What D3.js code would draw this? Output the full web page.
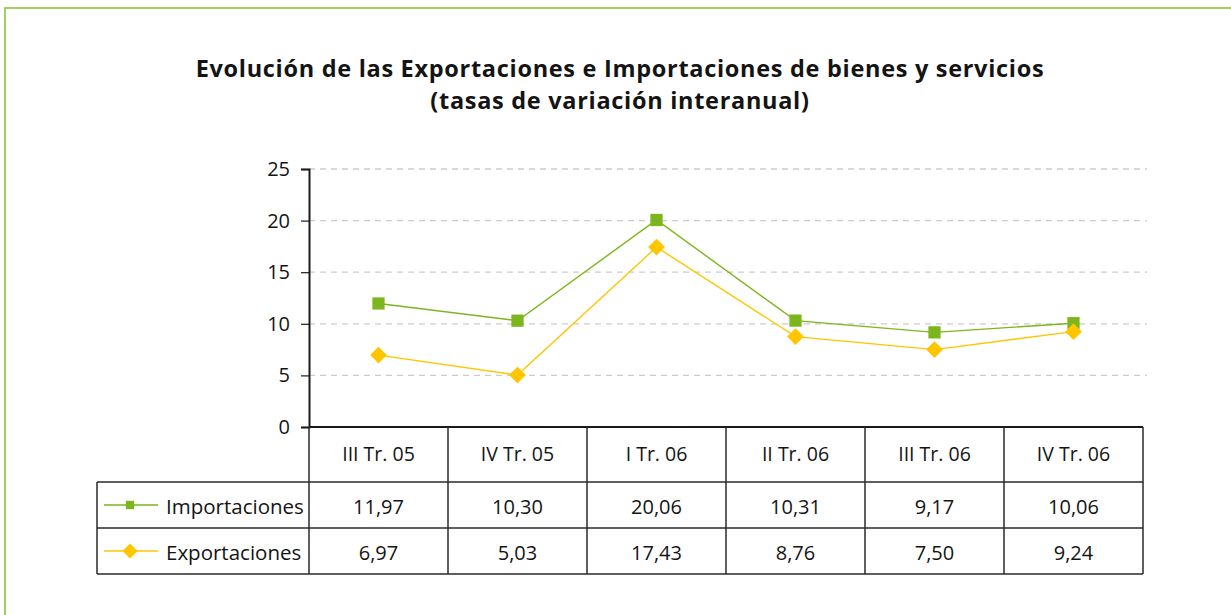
<!DOCTYPE html>
<html>
<head>
<meta charset="utf-8">
<script src="https://cdn.jsdelivr.net/npm/d3@7"></script>
<style>
  body { margin: 0; background: #fff; }
  svg text { font-family: "Open Sans", Lato, sans-serif; fill: #141414; }
</style>
</head>
<body>
<div id="chart"></div>
<script>
// data
const categories = ["III Tr. 05", "IV Tr. 05", "I Tr. 06", "II Tr. 06", "III Tr. 06", "IV Tr. 06"];
const importaciones = [11.97, 10.30, 20.06, 10.31, 9.17, 10.06];
const exportaciones = [6.97, 5.03, 17.43, 8.76, 7.50, 9.24];
const yTicks = [0, 5, 10, 15, 20, 25];

const W = 1231, H = 615;
const green = "#7db61c", yellow = "#ffc600";
const fmt = v => v.toFixed(2).replace(".", ",");

// diamond = square turned 45 degrees
const series = [
  {name: "Importaciones", values: importaciones, color: green, rot: 0, size: 150, legendSize: 70},
  {name: "Exportaciones", values: exportaciones, color: yellow, rot: 45, size: 140, legendSize: 112}
];

const svg = d3.select("#chart").append("svg")
  .attr("width", W)
  .attr("height", H);

// green frame
svg.append("rect")
  .attr("x", 5).attr("y", 8)
  .attr("width", W + 20).attr("height", H + 20)
  .attr("fill", "none")
  .attr("stroke", "#8cc43c")
  .attr("stroke-width", 1.6);

// title
svg.append("text")
  .attr("x", 620).attr("y", 77)
  .attr("text-anchor", "middle")
  .style("font-size", "23.5px").style("font-weight", "bold")
  .style("letter-spacing", "0.7px")
  .text("Evolución de las Exportaciones e Importaciones de bienes y servicios");
svg.append("text")
  .attr("x", 620).attr("y", 109)
  .attr("text-anchor", "middle")
  .style("font-size", "23.5px").style("font-weight", "bold")
  .style("letter-spacing", "0.7px")
  .text("(tasas de variación interanual)");

const x = d3.scaleBand()
  .domain(categories)
  .range([309, 1143])
  .padding(0);

const y = d3.scaleLinear()
  .domain([0, 25])
  .range([427, 169]);

// gridlines
svg.append("g")
  .selectAll("line")
  .data(yTicks.filter(t => t > 0))
  .join("line")
    .attr("x1", 309).attr("x2", 1147)
    .attr("y1", d => y(d)).attr("y2", d => y(d))
    .attr("stroke", "#cccccc")
    .attr("stroke-width", 1.3)
    .attr("stroke-dasharray", "6,5");

// y axis
const yAxis = svg.append("g")
  .attr("transform", "translate(309,0)")
  .call(d3.axisLeft(y).tickValues(yTicks).tickSize(8).tickPadding(11));
yAxis.select(".domain").attr("stroke", "#1a1a1a").attr("stroke-width", 2);
yAxis.selectAll(".tick line").attr("stroke", "#1a1a1a").attr("stroke-width", 1.2);
yAxis.selectAll(".tick text")
  .style("font-size", "20px")
  .style("font-family", "'Open Sans', sans-serif")
  .attr("fill", "#141414");

// table
const rowTop = [427, 482, 528];
const rowBot = [482, 528, 574];
const tbl = svg.append("g");
const lineCol = "#2a2a2a";

tbl.append("line").attr("x1", 309).attr("x2", 1143).attr("y1", 427).attr("y2", 427)
  .attr("stroke", "#1a1a1a").attr("stroke-width", 2);
[482, 528, 574].forEach(yy => {
  tbl.append("line").attr("x1", 97).attr("x2", 1143).attr("y1", yy).attr("y2", yy)
    .attr("stroke", lineCol).attr("stroke-width", 1.5);
});
tbl.append("line").attr("x1", 97).attr("x2", 97).attr("y1", 482).attr("y2", 574)
  .attr("stroke", lineCol).attr("stroke-width", 1.5);
tbl.selectAll(".vline")
  .data(categories)
  .join("line")
    .attr("x1", d => x(d)).attr("x2", d => x(d))
    .attr("y1", 427).attr("y2", 574)
    .attr("stroke", lineCol).attr("stroke-width", 1.5);
tbl.append("line").attr("x1", 1143).attr("x2", 1143).attr("y1", 427).attr("y2", 574)
  .attr("stroke", lineCol).attr("stroke-width", 1.5);

// header labels
tbl.selectAll(".hdr")
  .data(categories)
  .join("text")
    .attr("x", d => x(d) + x.bandwidth() / 2)
    .attr("y", 461)
    .attr("text-anchor", "middle")
    .style("font-size", "19.5px")
    .text(d => d);

// value rows
series.forEach((s, i) => {
  const base = rowTop[i + 1] + 32;
  tbl.selectAll(".val" + i)
    .data(s.values)
    .join("text")
      .attr("x", (d, j) => x(categories[j]) + x.bandwidth() / 2)
      .attr("y", base)
      .attr("text-anchor", "middle")
      .style("font-size", "20px")
      .text(d => fmt(d));

  const cy = (rowTop[i + 1] + rowBot[i + 1]) / 2;
  tbl.append("line")
    .attr("x1", 104).attr("x2", 158)
    .attr("y1", cy).attr("y2", cy)
    .attr("stroke", s.color).attr("stroke-width", 1.3);
  tbl.append("path")
    .attr("d", d3.symbol().type(d3.symbolSquare).size(s.legendSize)())
    .attr("transform", `translate(130,${cy}) rotate(${s.rot})`)
    .attr("fill", s.color);
  tbl.append("text")
    .attr("x", 166).attr("y", base)
    .style("font-size", "20.5px")
    .text(s.name);
});

// lines and markers
const line = d3.line()
  .x((d, j) => x(categories[j]) + x.bandwidth() / 2)
  .y(d => y(d));

series.slice().reverse().forEach(s => {
  svg.append("path")
    .datum(s.values)
    .attr("fill", "none")
    .attr("stroke", s.color)
    .attr("stroke-width", 1.4)
    .attr("d", line);
});
series.forEach(s => {
  svg.append("g")
    .selectAll("path")
    .data(s.values)
    .join("path")
      .attr("d", d3.symbol().type(d3.symbolSquare).size(s.size))
      .attr("transform", (d, j) => `translate(${x(categories[j]) + x.bandwidth() / 2},${y(d)}) rotate(${s.rot})`)
      .attr("fill", s.color);
});
</script>
</body>
</html>
